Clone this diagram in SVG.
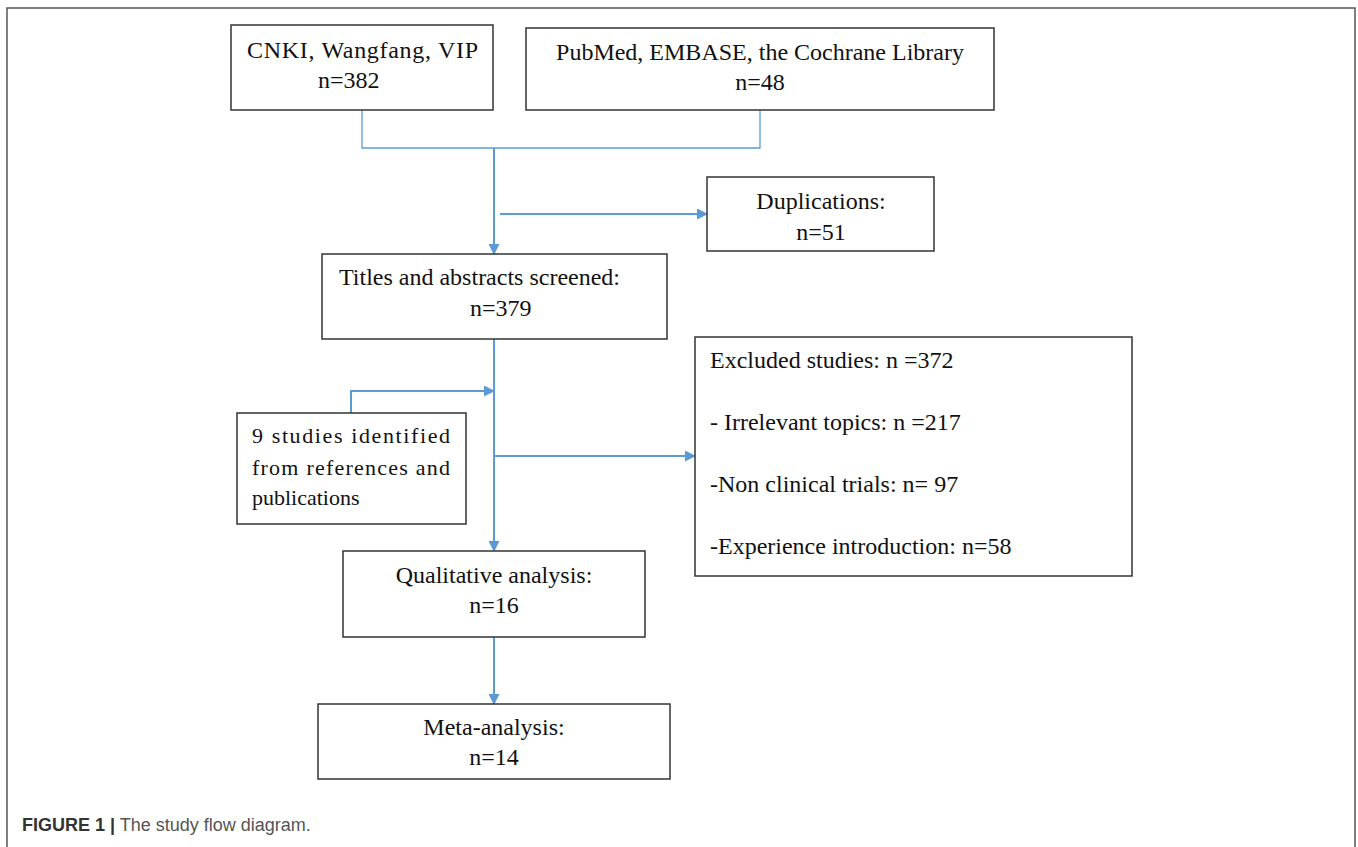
<svg xmlns="http://www.w3.org/2000/svg" width="1358" height="847" viewBox="0 0 1358 847">
<defs>
<style>
.box{fill:#fff;stroke:#333;stroke-width:1.5}
.t{font-family:"Liberation Serif","Times New Roman",serif;font-size:24px;fill:#111}
.s{font-size:22px}
.c{text-anchor:middle}
.ln{fill:none;stroke:#5b9bd5;stroke-width:2}
.thin{fill:none;stroke:#5b9bd5;stroke-width:1.3}
.cap{font-family:"Liberation Sans",Arial,sans-serif;font-size:18px;fill:#555}
</style>
<marker id="ah" markerWidth="11" markerHeight="11" refX="10" refY="5.5" orient="auto" markerUnits="userSpaceOnUse">
<path d="M0,0 L11,5.5 L0,11 z" fill="#5b9bd5"/>
</marker>
</defs>
<rect width="1358" height="847" fill="#fff"/>
<path d="M7,847 V8 H1355 V847" fill="none" stroke="#555" stroke-width="1.5"/>

<g id="connectors">
<path class="thin" d="M362,110 V148 H760 V110"/>
<path class="ln" d="M494,148 V254" marker-end="url(#ah)"/>
<path class="ln" d="M500,214 H707" marker-end="url(#ah)"/>
<path class="ln" d="M494,339 V551" marker-end="url(#ah)"/>
<path class="ln" d="M351,413 V391 H494" marker-end="url(#ah)"/>
<path class="ln" d="M494,456 H695" marker-end="url(#ah)"/>
<path class="ln" d="M494,637 V704" marker-end="url(#ah)"/>
</g>

<g id="n1">
<rect class="box" x="231" y="25" width="262" height="85"/>
<text class="t" x="247" y="58" textLength="231" lengthAdjust="spacing">CNKI, Wangfang, VIP</text>
<text class="t" x="318" y="88">n=382</text>
</g>

<g id="n2">
<rect class="box" x="526" y="28" width="468" height="82"/>
<text class="t c" x="760" y="60">PubMed, EMBASE, the Cochrane Library</text>
<text class="t c" x="760" y="90">n=48</text>
</g>

<g id="n3">
<rect class="box" x="707" y="177" width="227" height="74"/>
<text class="t c" x="821" y="209">Duplications:</text>
<text class="t c" x="821" y="240">n=51</text>
</g>

<g id="n4">
<rect class="box" x="322" y="254" width="345" height="85"/>
<text class="t" x="339" y="285">Titles and abstracts screened:</text>
<text class="t" x="470" y="316">n=379</text>
</g>

<g id="n5">
<rect class="box" x="237" y="413" width="229" height="111"/>
<text class="t s" x="252" y="443" textLength="198" lengthAdjust="spacing">9 studies identified</text>
<text class="t s" x="252" y="475" textLength="198" lengthAdjust="spacing">from references and</text>
<text class="t s" x="252" y="505">publications</text>
</g>

<g id="n6">
<rect class="box" x="695" y="337" width="437" height="239"/>
<text class="t" x="710" y="368">Excluded studies: n =372</text>
<text class="t" x="710" y="430">- Irrelevant topics: n =217</text>
<text class="t" x="710" y="492">-Non clinical trials: n= 97</text>
<text class="t" x="710" y="554">-Experience introduction: n=58</text>
</g>

<g id="n7">
<rect class="box" x="343" y="551" width="302" height="86"/>
<text class="t c" x="494" y="583">Qualitative analysis:</text>
<text class="t c" x="494" y="613">n=16</text>
</g>

<g id="n8">
<rect class="box" x="318" y="704" width="352" height="75"/>
<text class="t c" x="494" y="735">Meta-analysis:</text>
<text class="t c" x="494" y="765">n=14</text>
</g>

<text class="cap" x="22" y="831"><tspan font-weight="bold" fill="#333">FIGURE 1 |</tspan> The study flow diagram.</text>
</svg>
